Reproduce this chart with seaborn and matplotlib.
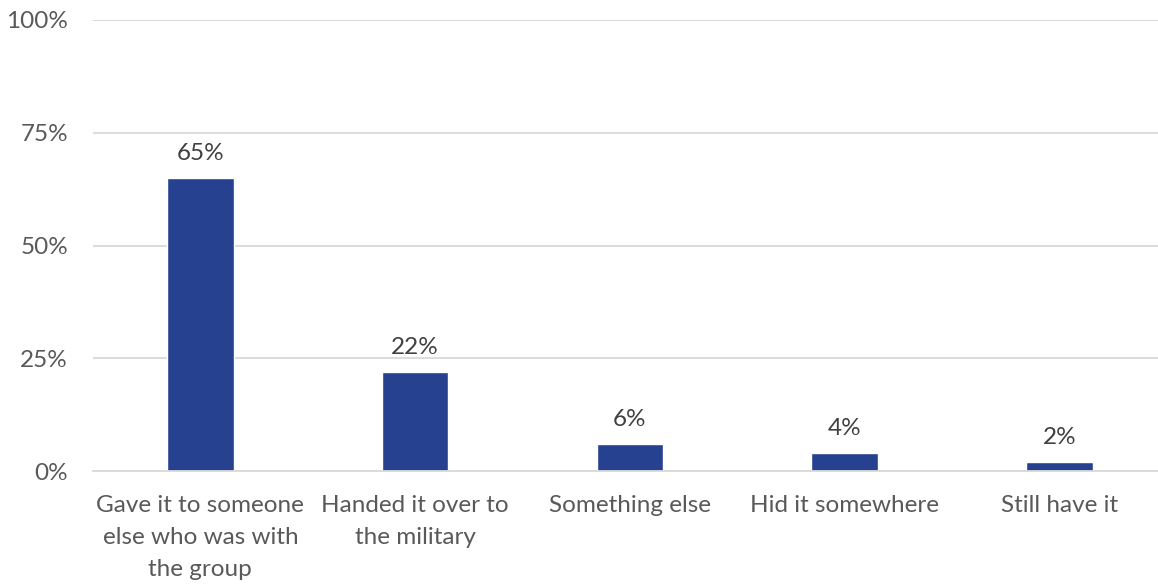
import matplotlib
matplotlib.use("Agg")
import matplotlib.pyplot as plt
import seaborn as sns
import pandas as pd

categories = ["Gave it to someone\nelse who was with\nthe group",
              "Handed it over to\nthe military",
              "Something else",
              "Hid it somewhere",
              "Still have it"]
values = [65, 22, 6, 4, 2]
yticks = [0, 25, 50, 75, 100]
ytick_labels = ["0%", "25%", "50%", "75%", "100%"]

sns.set_theme(style="white")
plt.rcParams['font.family'] = ['Lato', 'DejaVu Sans']

df = pd.DataFrame({"cat": categories, "val": values})

fig = plt.figure(figsize=(11.58, 5.87), dpi=100)
ax = fig.add_axes([93/1158, 1 - 471/587, (1158 - 93)/1158, (471 - 20)/587])

sns.barplot(data=df, x="cat", y="val", color="#264190", saturation=1,
            width=0.31, ax=ax)

ax.set_ylim(0, 100)
ax.set_xlim(-0.5, 4.46)
ax.set_yticks(yticks)
ax.set_yticklabels(ytick_labels)
ax.yaxis.grid(True, color="#d9d9d9", linewidth=1.3)
ax.set_axisbelow(True)
for s in ["top", "right", "left"]:
    ax.spines[s].set_visible(False)
ax.spines["bottom"].set_color("#d9d9d9")
ax.spines["bottom"].set_linewidth(1.3)
ax.set_xlabel("")
ax.set_ylabel("")
ax.tick_params(axis="both", length=0, labelsize=17.5, colors="#595959")
ax.tick_params(axis="y", pad=18)
ax.tick_params(axis="x", pad=17)
for lab in ax.get_xticklabels():
    lab.set_linespacing(1.65)

for i, v in enumerate(values):
    ax.text(i, v + 3, f"{v}%", ha="center", va="bottom", fontsize=17.5,
            color="#404040")

fig.savefig("out.png", dpi=100)
